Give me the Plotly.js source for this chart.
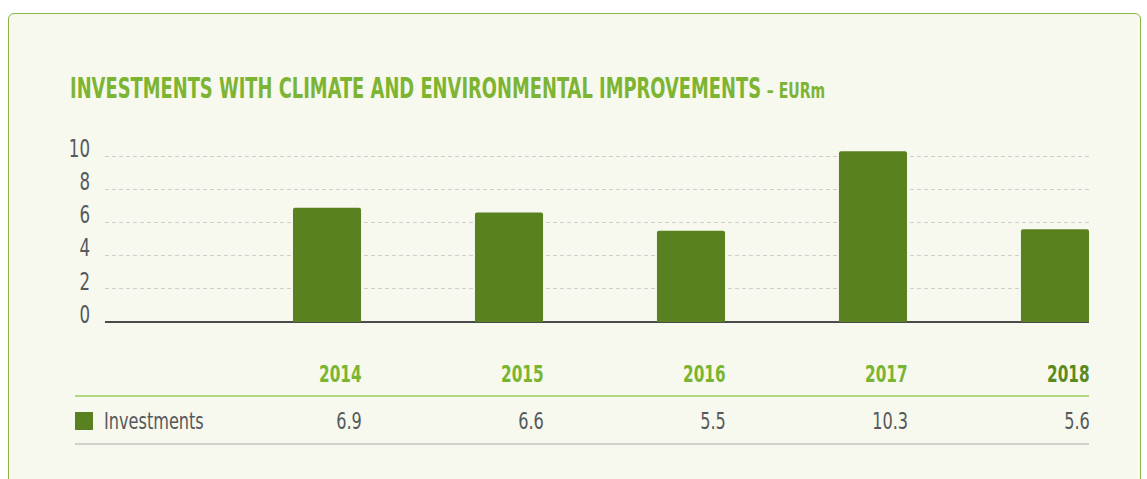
<!DOCTYPE html>
<html>
<head>
<meta charset="utf-8">
<script src="https://cdn.plot.ly/plotly-3.0.1.min.js"></script>
<style>
  html, body { margin: 0; padding: 0; background: #ffffff; width: 1147px; height: 479px; overflow: hidden; }
  #wrap { position: relative; width: 1147px; height: 479px; }
  #panel { position: absolute; left: 8px; top: 13px; width: 1131px; height: 480px; border: 1.5px solid #86b844; border-radius: 6px; background: #f7f8ee; }
  #chart { position: absolute; left: 0; top: 0; width: 1147px; height: 479px; }
</style>
</head>
<body>
<div id="wrap"><div id="panel"></div><div id="chart"></div></div>
<script>
const years = [2014, 2015, 2016, 2017, 2018];
const investments = [6.9, 6.6, 5.5, 10.3, 5.6];
const valueLabels = ['6.9', '6.6', '5.5', '10.3', '5.6'];
const yTicks = [0, 2, 4, 6, 8, 10];
const seriesName = 'Investments';
const titleText = 'INVESTMENTS WITH CLIMATE AND ENVIRONMENTAL IMPROVEMENTS';
const unitText = '– EURm';

const W = 1147, H = 479;
const M = { l: 105, r: 58, t: 143, b: 157 };
const plotW = W - M.l - M.r, plotH = H - M.t - M.b;
const px = v => (v - M.l) / plotW;          // pixel x -> paper
const py = v => (H - M.b - v) / plotH;      // pixel y -> paper

const barColor = '#5a8120';
const lightGreen = '#7ab532';
const darkGreen = '#5b8a1f';
const grayText = '#55595c';
const cond = '"DejaVu Sans Condensed", "Liberation Sans Narrow", sans-serif';
const halfBar = 0.187;

// horizontal condensing of text (the reference uses a very narrow DIN-like face)
const SQ_TITLE = 0.71, SQ_BOLD = 0.74, SQ_REG = 0.78, SQ_TICK = 0.74;

const annotations = [];
const annSq = [];
const annAnchor = [];
years.forEach((yr, i) => {
  annotations.push({
    xref: 'x', yref: 'paper', x: yr + halfBar, y: py(374), xanchor: 'right', yanchor: 'middle', xshift: 3,
    text: '<b>' + yr + '</b>', showarrow: false,
    font: { family: cond, size: 23, color: i === years.length - 1 ? darkGreen : lightGreen }
  });
  annSq.push(SQ_BOLD); annAnchor.push('right');
  annotations.push({
    xref: 'x', yref: 'paper', x: yr + halfBar, y: py(421), xanchor: 'right', yanchor: 'middle', xshift: 3,
    text: valueLabels[i], showarrow: false,
    font: { family: cond, size: 23, color: grayText }
  });
  annSq.push(SQ_REG); annAnchor.push('right');
});
annotations.push({
  xref: 'paper', yref: 'paper', x: px(102), y: py(421), xanchor: 'left', yanchor: 'middle',
  text: seriesName, showarrow: false,
  font: { family: cond, size: 23, color: grayText }
});
annSq.push(SQ_REG); annAnchor.push('left');

const shapes = [
  { type: 'line', xref: 'paper', yref: 'paper', x0: px(75), x1: px(1089), y0: py(396), y1: py(396),
    line: { color: '#9ccb5c', width: 1.5 } },
  { type: 'line', xref: 'paper', yref: 'paper', x0: px(75), x1: px(1089), y0: py(444), y1: py(444),
    line: { color: '#c4c4c0', width: 1.5 } },
  { type: 'rect', xref: 'paper', yref: 'paper', x0: px(75), x1: px(93), y0: py(430), y1: py(412),
    fillcolor: barColor, line: { width: 0 } }
];

const data = [{
  type: 'bar', x: years, y: investments, name: seriesName, width: 0.374,
  marker: { color: barColor, cornerradius: 2 }, hoverinfo: 'x+y'
}];

const layout = {
  width: W, height: H,
  margin: M,
  paper_bgcolor: 'rgba(0,0,0,0)', plot_bgcolor: 'rgba(0,0,0,0)',
  showlegend: false,
  title: {
    text: '<b>' + titleText + '</b> <b><span style="font-size:22px">' + unitText + '</span></b>',
    xref: 'container', yref: 'container', x: 70 / W, xanchor: 'left', y: 1 - 88 / H, yanchor: 'middle',
    font: { family: cond, size: 28, color: '#7db432' }
  },
  xaxis: { type: 'linear', range: [2012.78, 2018.187], visible: false, fixedrange: true },
  yaxis: {
    range: [0, 10.8], tickvals: yTicks, ticktext: yTicks.map(String),
    showgrid: true, gridcolor: '#cfcfcc', griddash: '4px,3px', gridwidth: 1,
    zeroline: true, zerolinecolor: '#4a4a4a', zerolinewidth: 1.5,
    showline: false, ticks: '', ticklabelstandoff: 14, ticklabelshift: -8,
    tickfont: { family: cond, size: 25, color: grayText }, fixedrange: true
  },
  annotations: annotations,
  shapes: shapes
};

function squeeze(el, s, anchor) {
  const b = el.getBBox();
  const ax = anchor === 'left' ? b.x : b.x + b.width;
  const prev = el.getAttribute('transform') || '';
  el.setAttribute('transform', (prev + ' translate(' + ax + ',0) scale(' + s + ',1) translate(' + (-ax) + ',0)').trim());
}

Plotly.newPlot('chart', data, layout, { displayModeBar: false, staticPlot: true }).then(gd => {
  const t = gd.querySelector('.gtitle');
  if (t) squeeze(t, SQ_TITLE, 'left');
  gd.querySelectorAll('.ytick text').forEach(el => squeeze(el, SQ_TICK, 'right'));
  gd.querySelectorAll('.annotation-text').forEach((el, i) => squeeze(el, annSq[i] || SQ_REG, annAnchor[i] || 'right'));
});
</script>
</body>
</html>
